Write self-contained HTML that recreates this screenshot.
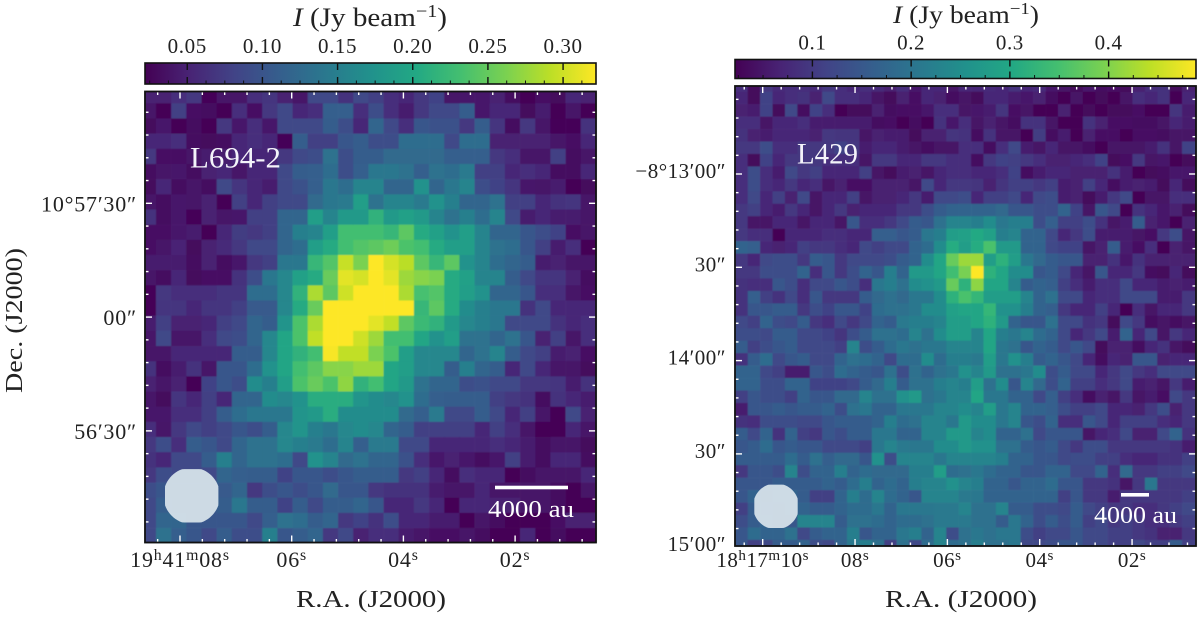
<!DOCTYPE html>
<html lang="en">
<head>
<meta charset="utf-8">
<title>L694-2 and L429 intensity maps</title>
<style>
html,body{margin:0;padding:0;background:#fff;}
svg{display:block;font-family:"Liberation Serif","DejaVu Serif",serif;fill:#222;}
</style>
</head>
<body>
<svg id="figure" xmlns="http://www.w3.org/2000/svg" width="1200" height="618" viewBox="0 0 1200 618">
<defs>
<linearGradient id="viridis-grad" x1="0" x2="1" y1="0" y2="0"></linearGradient>
<filter id="soft" x="-2%" y="-2%" width="104%" height="104%"><feGaussianBlur stdDeviation="0.55"/></filter>
</defs>
<rect x="0" y="0" width="1200" height="618" fill="#fff"/>
<g id="panel-left"></g>
<g id="panel-right"></g>

<text x="293" y="26" font-size="26" textLength="154" lengthAdjust="spacingAndGlyphs"><tspan font-style="italic">I</tspan> (Jy beam<tspan dy="-9" font-size="18">−1</tspan><tspan dy="9">)</tspan></text>
<text x="893" y="23" font-size="25" textLength="146" lengthAdjust="spacingAndGlyphs"><tspan font-style="italic">I</tspan> (Jy beam<tspan dy="-9" font-size="17">−1</tspan><tspan dy="9">)</tspan></text>

<text x="296" y="607" font-size="24" textLength="150" lengthAdjust="spacingAndGlyphs">R.A. (J2000)</text>
<text x="885" y="607" font-size="24" textLength="152" lengthAdjust="spacingAndGlyphs">R.A. (J2000)</text>
<text transform="translate(22,393) rotate(-90)" x="0" y="0" font-size="24" textLength="145" lengthAdjust="spacingAndGlyphs">Dec. (J2000)</text>
</svg>

<script>
// Intensity in mJy/beam, read by eye from the map. Each inner array is one image row, top to bottom.
const fluxL694 = [
[46,46,58,67,25,37,37,58,64,46,37,82,82,61,82,73,58,52,67,76,37,40,40,46,31,22,34,28,52,46],
[37,22,73,34,31,22,58,34,67,82,52,58,106,106,58,88,58,43,67,82,82,103,40,52,52,28,43,22,37,22],
[28,40,22,31,22,67,40,58,40,82,82,82,103,88,52,112,82,58,97,91,91,67,103,64,31,67,37,25,25,61],
[52,52,58,31,28,31,52,58,52,25,103,73,73,97,103,88,88,121,121,121,82,121,121,46,46,46,46,37,34,52],
[67,34,34,37,43,43,52,52,52,67,82,88,127,88,103,103,118,118,118,118,106,106,106,67,58,37,37,73,31,37],
[31,37,40,31,46,52,37,52,52,82,103,106,121,88,106,133,133,127,106,127,121,136,73,73,52,58,52,31,31,52],
[28,52,31,37,31,82,64,52,43,82,91,106,133,121,148,148,112,112,163,112,133,148,88,76,64,40,37,43,22,28],
[37,31,40,37,46,22,73,52,73,82,82,118,133,136,178,127,148,148,136,163,142,112,112,127,73,73,52,61,64,37],
[61,31,40,25,46,37,40,73,73,112,112,178,148,172,172,202,172,181,172,148,127,142,121,148,82,43,52,43,43,37],
[34,34,40,43,22,52,70,67,73,112,142,148,178,217,217,217,208,232,193,181,163,178,148,112,112,97,88,76,34,37],
[34,37,49,28,46,55,67,82,82,112,121,178,193,217,226,232,241,223,217,193,178,178,148,127,121,97,73,43,58,22],
[43,43,43,31,46,31,40,67,73,133,133,208,226,280,247,316,286,274,232,208,232,163,148,121,112,103,43,46,37,37],
[37,31,52,28,34,34,61,88,133,151,181,193,238,292,286,322,292,262,253,247,193,181,148,148,103,82,64,64,46,31],
[25,67,58,58,58,64,64,121,121,151,202,268,232,283,307,322,322,268,220,226,193,178,163,112,112,97,58,58,37,34],
[22,64,64,52,64,64,73,100,100,151,193,238,322,322,322,304,310,322,208,232,193,157,142,133,133,61,82,52,52,52],
[43,73,46,46,52,73,82,112,103,166,223,268,322,322,322,292,277,232,211,202,172,151,142,133,82,82,82,61,52,58],
[37,82,37,37,58,82,88,112,151,187,223,277,307,322,283,262,217,217,187,163,178,127,127,112,127,97,46,73,37,58],
[37,37,52,52,52,52,103,103,151,187,202,217,301,277,277,247,223,178,151,151,151,112,127,148,103,82,73,43,46,34],
[61,31,43,61,37,97,97,121,163,187,217,232,253,253,262,262,187,178,151,151,103,142,112,103,52,82,52,37,37,28],
[46,37,46,22,76,97,88,157,142,178,223,238,223,256,202,217,187,172,127,112,112,88,91,82,82,67,67,64,43,61],
[37,28,64,52,73,52,112,112,157,151,163,196,196,196,166,157,151,163,121,106,103,103,103,73,67,61,31,61,52,43],
[40,40,58,58,73,103,121,133,133,133,166,172,196,157,157,157,157,118,106,136,82,82,103,82,52,73,37,22,82,46],
[58,37,67,82,73,82,97,88,103,151,166,142,133,151,157,151,112,103,73,73,73,73,52,73,58,37,22,22,52,37],
[67,88,58,103,97,82,112,127,127,151,142,136,121,148,106,136,136,82,82,52,52,52,52,58,52,43,31,37,37,28],
[61,52,82,82,103,142,112,127,127,121,82,163,148,118,127,112,112,91,58,40,46,40,31,40,73,43,31,52,52,31],
[67,88,82,82,82,112,106,103,103,76,97,97,88,97,103,103,103,67,73,52,31,58,52,52,22,31,37,37,37,52],
[88,97,97,97,97,100,112,67,88,97,88,97,118,97,97,67,61,61,61,43,37,37,52,37,37,37,37,31,22,37],
[82,103,97,97,97,103,133,103,103,76,103,82,103,103,112,97,52,52,67,52,22,52,52,46,46,37,37,31,22,22],
[82,112,112,97,97,97,97,82,106,127,121,103,112,67,76,61,88,52,52,43,43,22,37,31,22,22,22,34,46,46],
[82,127,106,97,82,103,88,88,142,97,103,112,67,82,46,58,58,43,37,34,34,37,31,22,22,52,22,31,22,22]
];
const fluxL429 = [
[78,31,92,73,78,78,73,92,78,69,78,73,59,78,50,69,69,45,69,69,73,69,83,69,73,50,45,31,50,36,40,31,59,78,83,31,59],
[69,31,106,69,78,83,59,115,78,78,69,45,31,59,41,69,59,36,45,31,69,69,55,50,59,36,22,45,22,31,22,45,78,69,83,22,69],
[59,55,106,31,115,36,106,78,22,31,31,59,36,41,41,50,78,78,45,50,55,87,41,45,22,22,59,22,31,22,31,31,41,22,22,87,55],
[78,78,45,69,69,78,55,55,55,55,55,36,41,22,36,22,83,50,78,45,59,45,36,83,83,45,22,22,83,59,41,41,36,36,45,69,55],
[83,59,55,69,69,69,59,92,87,87,45,59,55,55,31,59,59,87,83,36,83,45,45,22,97,36,55,22,59,41,41,22,41,41,36,45,45],
[92,92,125,78,78,92,92,92,106,92,55,69,69,55,45,36,45,45,78,78,36,78,115,55,45,69,45,45,36,22,45,45,45,55,83,45,106],
[78,31,106,69,92,92,92,78,78,78,45,92,92,69,69,92,92,78,78,36,92,106,101,92,78,59,59,69,78,106,31,41,92,45,50,22,31],
[78,125,78,55,115,92,101,69,69,69,101,45,31,55,59,45,69,78,78,69,69,78,106,36,55,69,69,59,59,59,83,55,22,31,36,50,50],
[78,125,78,69,92,69,78,45,59,41,41,59,59,59,45,115,69,92,92,87,59,87,101,101,92,101,55,59,101,69,36,55,59,55,31,69,31],
[78,115,69,101,59,115,45,69,69,101,45,59,59,69,92,55,115,115,125,69,101,101,115,69,115,125,55,59,31,55,92,115,22,45,45,78,78],
[92,101,69,55,92,69,45,69,92,59,69,69,69,92,92,125,148,162,162,162,162,171,138,138,125,125,162,106,45,138,115,22,83,69,50,59,31],
[92,45,45,69,69,45,69,69,45,138,78,78,92,115,148,138,185,218,218,208,232,194,208,208,125,152,101,101,125,83,45,55,148,59,50,22,59],
[92,78,78,22,69,69,69,78,78,69,69,152,152,138,148,194,208,264,269,287,269,208,218,162,162,115,69,92,125,55,55,55,45,41,92,125,45],
[162,152,69,59,69,101,92,92,78,69,115,101,115,115,162,176,232,292,264,292,334,255,255,162,162,115,106,106,45,59,148,55,41,78,22,59,45],
[92,69,115,125,125,92,148,138,92,115,115,115,125,148,162,232,278,358,395,395,264,302,264,194,171,148,138,138,59,59,83,50,83,59,59,59,59],
[92,92,125,125,125,162,78,138,92,125,162,138,208,162,255,255,278,325,371,465,302,278,232,232,138,148,115,69,45,138,69,69,92,36,31,69,31],
[83,78,78,138,125,78,115,115,138,125,78,194,208,185,232,241,255,358,302,385,278,278,218,148,162,152,101,78,55,78,78,115,69,69,55,59,55],
[83,152,101,83,115,78,138,92,92,92,148,171,185,171,194,194,232,302,334,311,264,264,264,218,162,185,115,115,69,78,78,115,115,115,55,55,92],
[83,138,138,148,148,92,125,106,138,138,106,176,185,185,194,232,232,269,278,278,311,241,241,208,162,152,92,69,69,101,69,22,78,45,69,69,92],
[115,101,162,125,115,148,92,78,115,92,115,162,148,199,208,208,218,264,264,278,302,255,162,138,138,185,115,115,83,92,31,115,92,36,45,36,45],
[125,125,115,148,148,115,115,106,87,125,148,185,185,176,218,185,232,264,264,218,278,208,194,218,176,162,115,69,92,115,55,162,69,115,45,92,69],
[148,101,125,138,148,115,115,115,101,218,125,148,176,194,185,194,194,218,218,218,278,194,185,138,162,148,115,138,115,31,59,59,36,69,83,45,31],
[83,148,176,115,138,148,115,115,162,185,176,162,115,176,176,232,176,208,208,199,264,194,241,208,148,162,138,115,69,36,69,59,138,138,59,69,69],
[162,162,115,101,55,55,138,125,176,162,148,138,185,125,185,162,185,194,241,218,255,185,185,194,232,125,148,115,115,69,92,115,92,78,115,115,115],
[162,162,125,125,162,162,106,106,106,115,148,171,208,148,185,185,208,218,208,264,185,232,138,218,171,125,162,101,101,78,92,115,55,59,45,92,55],
[101,138,125,125,101,162,138,138,171,171,218,185,185,241,255,185,194,218,218,278,194,194,162,162,115,152,101,78,36,59,45,92,45,55,41,115,92],
[55,138,138,148,138,148,148,162,125,185,194,162,162,194,194,194,218,218,232,218,264,194,218,162,162,152,125,101,101,115,69,69,59,92,125,59,92],
[83,78,125,125,125,115,115,138,148,148,148,162,208,176,185,218,218,194,255,232,232,194,218,138,125,162,78,78,138,115,69,101,101,101,78,69,92],
[148,115,162,83,162,101,92,138,125,148,148,194,194,162,162,218,218,255,255,218,232,162,162,185,115,138,138,138,45,69,78,115,59,59,115,162,83],
[138,148,176,138,148,138,138,115,115,115,101,194,218,199,194,194,232,232,255,241,241,185,185,148,138,148,115,92,125,125,92,92,92,92,92,83,55],
[148,148,148,148,176,148,185,152,171,171,138,241,125,218,218,218,194,218,218,218,218,208,162,162,138,138,115,125,125,101,101,78,69,69,83,83,101],
[92,138,138,125,218,125,162,162,208,162,176,171,171,171,208,208,264,176,185,194,176,162,162,138,138,162,162,115,115,162,78,171,92,92,101,101,115],
[138,138,138,148,148,148,148,162,148,176,208,162,176,162,208,218,218,241,218,208,162,162,138,162,162,176,138,138,92,92,83,45,92,194,92,92,92],
[138,162,138,162,162,148,101,101,162,208,176,218,176,162,138,218,218,218,199,194,162,162,162,162,162,162,101,138,92,92,55,92,92,92,92,92,101],
[101,148,148,138,162,162,148,148,162,176,176,194,162,194,194,194,199,199,218,185,185,218,148,148,125,125,115,148,115,101,92,92,78,78,92,101,115],
[125,148,162,138,138,218,218,218,148,185,185,176,162,176,176,185,199,199,199,185,185,148,194,162,125,148,125,148,101,115,92,101,92,78,78,92,101],
[138,176,162,162,185,115,148,162,162,208,138,162,162,194,208,162,218,125,185,194,185,194,194,125,101,115,115,138,115,115,101,101,92,83,59,59,92],
[138,101,115,148,148,162,125,115,162,199,208,185,101,185,115,176,218,176,185,208,185,185,194,115,115,125,138,138,115,115,101,101,115,101,101,148,101]
];

// My by-eye readings ran slightly low against the colour bar.
const readingGain = 1.06;

const colorbarTicksL694 = [50,100,150,200,250,300];
const colorbarLabelsL694 = ["0.05","0.10","0.15","0.20","0.25","0.30"];
const colorbarTicksL429 = [100,200,300,400];
const colorbarLabelsL429 = ["0.1","0.2","0.3","0.4"];

const raTickSecondsL694 = [8,6,4,2];
const raTickLabelsL694 = ["19h41m08s","06s","04s","02s"];
const raTickSecondsL429 = [10,8,6,4,2];
const raTickLabelsL429 = ["18h17m10s","08s","06s","04s","02s"];

const decTickArcsecL694 = [0,30,60];
const decTickLabelsL694 = ["10°57′30″","00″","56′30″"];
const decTickArcsecL429 = [0,30,60,90,120];
const decTickLabelsL429 = ["−8°13′00″","30″","14′00″","30″","15′00″"];

const viridisStops = ["#440154","#482475","#414487","#355f8d","#2a788e","#21918c","#22a884","#44bf70","#7ad151","#bddf26","#fde725"];

const SVGNS = "http://www.w3.org/2000/svg";

function hexToRgb(h){
  return [parseInt(h.slice(1,3),16),parseInt(h.slice(3,5),16),parseInt(h.slice(5,7),16)];
}
function viridis(t){
  t = Math.max(0,Math.min(1,t));
  const p = t*(viridisStops.length-1);
  const i = Math.min(Math.floor(p),viridisStops.length-2);
  const f = p-i;
  const a = hexToRgb(viridisStops[i]);
  const b = hexToRgb(viridisStops[i+1]);
  return "rgb("+Math.round(a[0]+(b[0]-a[0])*f)+","+Math.round(a[1]+(b[1]-a[1])*f)+","+Math.round(a[2]+(b[2]-a[2])*f)+")";
}
function make(tag,props,parent){
  const el = document.createElementNS(SVGNS,tag);
  for(const k in props){ el.setAttribute(k,props[k]); }
  parent.appendChild(el);
  return el;
}

const grad = document.getElementById("viridis-grad");
viridisStops.forEach(function(c,i){
  const s = make("stop",{offset:(i/(viridisStops.length-1)),"stop-color":c},grad);
  
  
});

function addTickText(parent,str,x,y,size,anchor,spacing){
  const t = make("text",{x:x,y:y,"font-size":size,"text-anchor":anchor,"letter-spacing":spacing},parent);
  const parts = str.match(/[hms]|[^hms]+/g);
  let up = false;
  parts.forEach(function(p){
    const sup = /^[hms]$/.test(p);
    const ts = document.createElementNS(SVGNS,"tspan");
    ts.textContent = p;
    if(sup){ ts.setAttribute("font-size",size*0.72); ts.setAttribute("dy",-7); up = true; }
    else if(up){ ts.setAttribute("dy",7); up = false; }
    t.appendChild(ts);
  });
  return t;
}

function beamPoints(b){
  const pts = [];
  for(let k=0;k<72;k++){
    const a = k*Math.PI/36;
    const px = Math.max(-b.r,Math.min(b.r,1.06*b.r*Math.cos(a)));
    const py = Math.max(-b.r,Math.min(b.r,1.06*b.r*Math.sin(a)));
    pts.push((b.cx+px).toFixed(2)+","+(b.cy+py).toFixed(2));
  }
  return pts.join(" ");
}

function drawPanel(g,c){
  const F = c.frame;
  const xCell = function(i){ return i===0 ? F.x0 : (i>=c.flux[0].length ? F.x1 : c.gridX+(i-1)*c.pitchX); };
  const yCell = function(j){ return j===0 ? F.y0 : (j>=c.flux.length ? F.y1 : c.gridY+(j-1)*c.pitchY); };
  const norm = function(v){ return (v-c.vmin)/(c.vmax-c.vmin); };

  // heatmap
  const hm = make("g",{filter:"url(#soft)"},g);
  
  
  c.flux.forEach(function(row,j){
    row.forEach(function(v,i){
      const r = make("rect",{x:xCell(i),y:yCell(j),width:xCell(i+1)-xCell(i)+0.3,height:yCell(j+1)-yCell(j)+0.3,fill:viridis(norm(v*readingGain))},hm);
      
      
    });
  });

  // colorbar
  const B = c.bar;
  const xBar = function(v){ return B.x0+norm(v)*(B.x1-B.x0); };
  const barRect = make("rect",{x:B.x0,y:B.y0,width:B.x1-B.x0,height:B.y1-B.y0,fill:"url(#viridis-grad)",stroke:"#111","stroke-width":1.6},g);
  
  
  for(let k=-10;k<60;k++){
    const v = c.barTicks[0]+k*c.barMinorStep;
    if(v<=c.vmin||v>=c.vmax) continue;
    const m = make("line",{x1:xBar(v),x2:xBar(v),y1:B.y1,y2:B.y1-3.5,stroke:"#111","stroke-width":1},g);
    
    
  }
  c.barTicks.forEach(function(v,i){
    const a = make("line",{x1:xBar(v),x2:xBar(v),y1:B.y0,y2:B.y0+7,stroke:"#111","stroke-width":1.4},g);
    
    
    const b = make("line",{x1:xBar(v),x2:xBar(v),y1:B.y1-7,y2:B.y1,stroke:"#111","stroke-width":1.4},g);
    
    
    const t = make("text",{x:xBar(v),y:B.y0-10,"font-size":21,"text-anchor":"middle","letter-spacing":0.6},g);
    t.textContent = c.barLabels[i];
    
    
  });

  // white in-frame ticks
  const xRA = function(s){ return c.raX+(c.raTicks[0]-s)*c.raScale; };
  const yDec = function(a){ return c.decY+a*c.decScale; };
  const tick = function(x1,y1,x2,y2,w){
    const l = make("line",{x1:x1,y1:y1,x2:x2,y2:y2,stroke:"#fff","stroke-width":w},g);
    
    
  };
  for(let k=-2;k<40;k++){
    const x = xRA(c.raTicks[0]-k*0.4);
    if(x<F.x0+3||x>F.x1-3) continue;
    const major = k%5===0;
    const len = major?7:3.5;
    tick(x,F.y0,x,F.y0+len,1.4);
    tick(x,F.y1,x,F.y1-len,1.4);
  }
  for(let k=-4;k<40;k++){
    const y = yDec(k*6);
    if(y<F.y0+3||y>F.y1-3) continue;
    const major = k%5===0;
    const len = major?7:3.5;
    tick(F.x0,y,F.x0+len,y,1.4);
    tick(F.x1,y,F.x1-len,y,1.4);
  }

  // tick labels
  c.raTicks.forEach(function(s,i){
    const t = addTickText(g,c.raLabels[i],xRA(s),567,c.tickFont,"middle",c.tickSpacing);
    
    
  });
  c.decTicks.forEach(function(a,i){
    const t = addTickText(g,c.decLabels[i],c.decLabelX,yDec(a)+c.decLabelDy,c.tickFont,"end",c.tickSpacing);
    
    
  });

  // beam
  const beam = make("polygon",{points:beamPoints(c.beam),fill:"#d3e0e8","fill-opacity":0.96},g);
  
  

  // scale bar
  const bar = make("rect",{x:c.scale.x0,y:c.scale.y,width:c.scale.x1-c.scale.x0,height:3.6,fill:"#fff"},g);
  
  
  const barText = make("text",{x:c.scale.tx,y:c.scale.ty,"font-size":24,fill:"#fff",textLength:c.scale.tw,lengthAdjust:"spacingAndGlyphs"},g);
  barText.textContent = "4000 au";
  
  

  // source name
  const name = make("text",{x:c.label.x,y:c.label.y,"font-size":30,fill:"#f4f4fa",textLength:c.label.w,lengthAdjust:"spacingAndGlyphs"},g);
  name.textContent = c.label.text;
  
  

  // frame
  const fr = make("rect",{x:F.x0,y:F.y0,width:F.x1-F.x0,height:F.y1-F.y0,fill:"none",stroke:"#111","stroke-width":1.8},g);
  
  
}

drawPanel(document.getElementById("panel-left"),{
  flux:fluxL694,vmin:21.9,vmax:321.9,
  frame:{x0:145,x1:596,y0:91.5,y1:542.5},
  gridX:156,pitchX:15.17,gridY:103.3,pitchY:15.17,
  bar:{x0:145,x1:596,y0:63,y1:84},
  barTicks:colorbarTicksL694,barLabels:colorbarLabelsL694,barMinorStep:12.5,
  raTicks:raTickSecondsL694,raLabels:raTickLabelsL694,raX:180,raScale:55.85,
  decTicks:decTickArcsecL694,decLabels:decTickLabelsL694,decY:203.3,decScale:3.793,decLabelX:137,decLabelDy:8,
  tickFont:22,tickSpacing:0.8,
  beam:{cx:191.7,cy:495.8,r:26.7},
  scale:{x0:495,x1:568,y:485.7,tx:488,ty:517,tw:86},
  label:{text:"L694-2",x:190,y:167.7,w:91}
});
drawPanel(document.getElementById("panel-right"),{
  flux:fluxL429,vmin:21.6,vmax:488.5,
  frame:{x0:735,x1:1196,y0:86,y1:546},
  gridX:747.7,pitchX:12.41,gridY:91.7,pitchY:12.45,
  bar:{x0:735,x1:1196,y0:59.5,y1:78.5},
  barTicks:colorbarTicksL429,barLabels:colorbarLabelsL429,barMinorStep:25,
  raTicks:raTickSecondsL429,raLabels:raTickLabelsL429,raX:762.7,raScale:46.17,
  decTicks:decTickArcsecL429,decLabels:decTickLabelsL429,decY:174,decScale:3.11,decLabelX:726,decLabelDy:4,
  tickFont:21,tickSpacing:0.5,
  beam:{cx:776,cy:506.3,r:21.7},
  scale:{x0:1121,x1:1149,y:493,tx:1094,ty:523,tw:83},
  label:{text:"L429",x:797,y:163.3,w:61}
});
</script>
</body>
</html>
